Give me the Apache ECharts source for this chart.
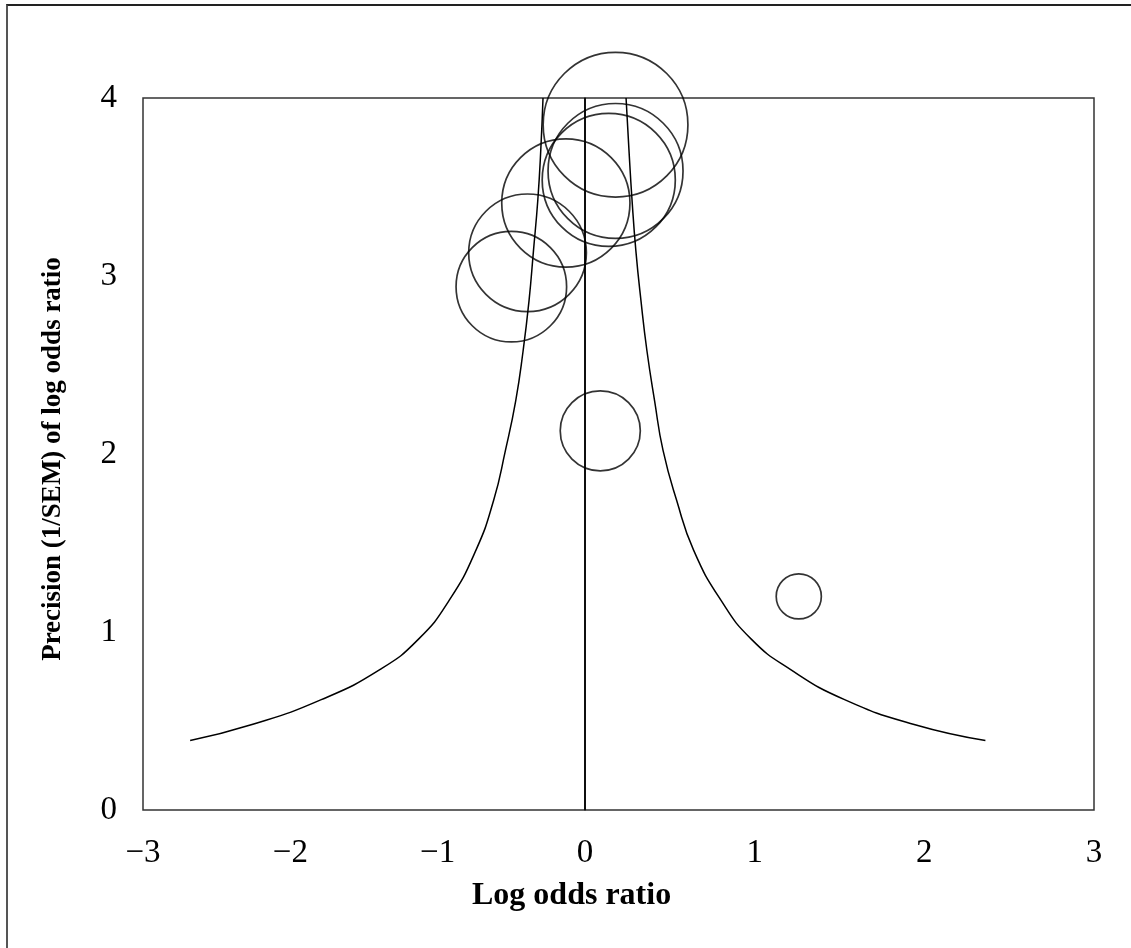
<!DOCTYPE html>
<html>
<head>
<meta charset="utf-8">
<title>Funnel plot</title>
<script src="https://cdn.jsdelivr.net/npm/echarts@6/dist/echarts.min.js"></script>
<style>
  html, body { margin: 0; padding: 0; background: #fff; }
  #chart { width: 1131px; height: 948px; position: relative; }
  #frame { position: absolute; left: 6px; top: 4px; right: 0; bottom: 0;
           border-top: 2px solid #222; border-left: 2px solid #555; pointer-events: none; }
</style>
</head>
<body>
<div id="chart"></div>
<div id="frame"></div>
<script>
// ---- Data ----
// Studies: log odds ratio and precision (1/SEM)
const studyLogOR     = [0.18, 0.18, 0.14, -0.13, -0.39, -0.50, 0.09, 1.26];
const studyPrecision = [3.85, 3.59, 3.54, 3.41, 3.13, 2.94, 2.13, 1.20];

// Funnel boundaries, read at these precision levels
const funnelPrecision = [0.39, 0.48, 0.62, 0.79, 0.96, 1.18, 1.46, 1.74, 2.02, 2.30, 2.58, 2.86, 3.14, 3.43, 3.71, 4.00];
const funnelLower     = [-2.68, -2.26, -1.79, -1.39, -1.13, -0.92, -0.74, -0.62, -0.54, -0.47, -0.42, -0.38, -0.35, -0.32, -0.30, -0.285];
const funnelUpper     = [2.36, 1.94, 1.53, 1.21, 0.98, 0.80, 0.64, 0.54, 0.46, 0.41, 0.365, 0.33, 0.30, 0.277, 0.259, 0.242];

// Reference (null effect) line
const refLineX = 0;
const refLinePrecision = [0, 4];

// Axis ticks
const xTicksNeg = [-3, -2, -1];
const xTicksPos = [0, 1, 2, 3];
const yTicks = [0, 1, 2, 3, 4];

// ---- Build chart ----
const FONT = "'Liberation Serif', 'Times New Roman', serif";
const fmtX = v => (v < 0 ? '\u2212' + Math.abs(v) : String(v));

const leftStudies = [], rightStudies = [];
studyLogOR.forEach((x, i) => {
  (x < 0 ? leftStudies : rightStudies).push([x, studyPrecision[i]]);
});
const lowerCurve = funnelPrecision.map((p, i) => [funnelLower[i], p]);
const upperCurve = funnelPrecision.map((p, i) => [funnelUpper[i], p]);
const refLine = refLinePrecision.map(p => [refLineX, p]);

const gridBase = { top: 98, height: 712, show: true, borderColor: '#333', borderWidth: 1.5, backgroundColor: 'transparent' };
const labelStyle = { fontFamily: FONT, fontSize: 33, color: '#000' };

const bubble = {
  type: 'scatter',
  symbol: 'circle',
  symbolSize: v => v[1] * 37.6,
  itemStyle: { color: 'rgba(0,0,0,0)', borderColor: '#000', borderWidth: 1.7 },
  emphasis: { disabled: true },
  clip: false,
  z: 3
};
const curve = {
  type: 'line',
  showSymbol: false,
  smooth: true,
  lineStyle: { color: '#000', width: 1.5 },
  emphasis: { disabled: true },
  z: 2
};

const option = {
  animation: false,
  backgroundColor: '#fff',
  title: {
    text: 'Log odds ratio',
    left: 472, top: 880, padding: 0,
    textStyle: { fontFamily: FONT, fontSize: 32, fontWeight: 'bold', color: '#000' }
  },
  grid: [
    Object.assign({ left: 143, width: 442 }, gridBase),
    Object.assign({ left: 585, width: 509 }, gridBase)
  ],
  xAxis: [
    {
      gridIndex: 0, type: 'value',
      min: xTicksNeg[0], max: 0, interval: 1,
      axisLine: { show: false }, axisTick: { show: false }, splitLine: { show: false },
      axisLabel: Object.assign({ margin: 27, showMaxLabel: false, formatter: fmtX }, labelStyle)
    },
    {
      gridIndex: 1, type: 'value',
      min: 0, max: xTicksPos[xTicksPos.length - 1], interval: 1,
      axisLine: { show: false }, axisTick: { show: false }, splitLine: { show: false },
      axisLabel: Object.assign({ margin: 27, showMinLabel: true, formatter: fmtX }, labelStyle)
    }
  ],
  yAxis: [
    {
      gridIndex: 0, type: 'value',
      min: yTicks[0], max: yTicks[yTicks.length - 1], interval: 1,
      axisLine: { show: false }, axisTick: { show: false }, splitLine: { show: false },
      axisLabel: Object.assign({ margin: 26 }, labelStyle),
      name: 'Precision (1/SEM) of log odds ratio',
      nameLocation: 'middle', nameGap: 76, nameRotate: 90,
      nameTextStyle: { fontFamily: FONT, fontSize: 27, fontWeight: 'bold', color: '#000', padding: [0, 10, 0, 0] }
    },
    {
      gridIndex: 1, type: 'value',
      min: yTicks[0], max: yTicks[yTicks.length - 1], interval: 1,
      show: false
    }
  ],
  series: [
    Object.assign({ name: 'Lower limit', xAxisIndex: 0, yAxisIndex: 0, data: lowerCurve }, curve),
    Object.assign({ name: 'Upper limit', xAxisIndex: 1, yAxisIndex: 1, data: upperCurve }, curve),
    Object.assign({ name: 'Null effect', xAxisIndex: 1, yAxisIndex: 1, data: refLine }, curve, { smooth: false }),
    Object.assign({ name: 'Studies (OR < 1)', xAxisIndex: 0, yAxisIndex: 0, data: leftStudies }, bubble),
    Object.assign({ name: 'Studies (OR ≥ 1)', xAxisIndex: 1, yAxisIndex: 1, data: rightStudies }, bubble)
  ]
};

const chart = echarts.init(document.getElementById('chart'), null, { renderer: 'canvas' });
chart.setOption(option);
</script>
</body>
</html>
